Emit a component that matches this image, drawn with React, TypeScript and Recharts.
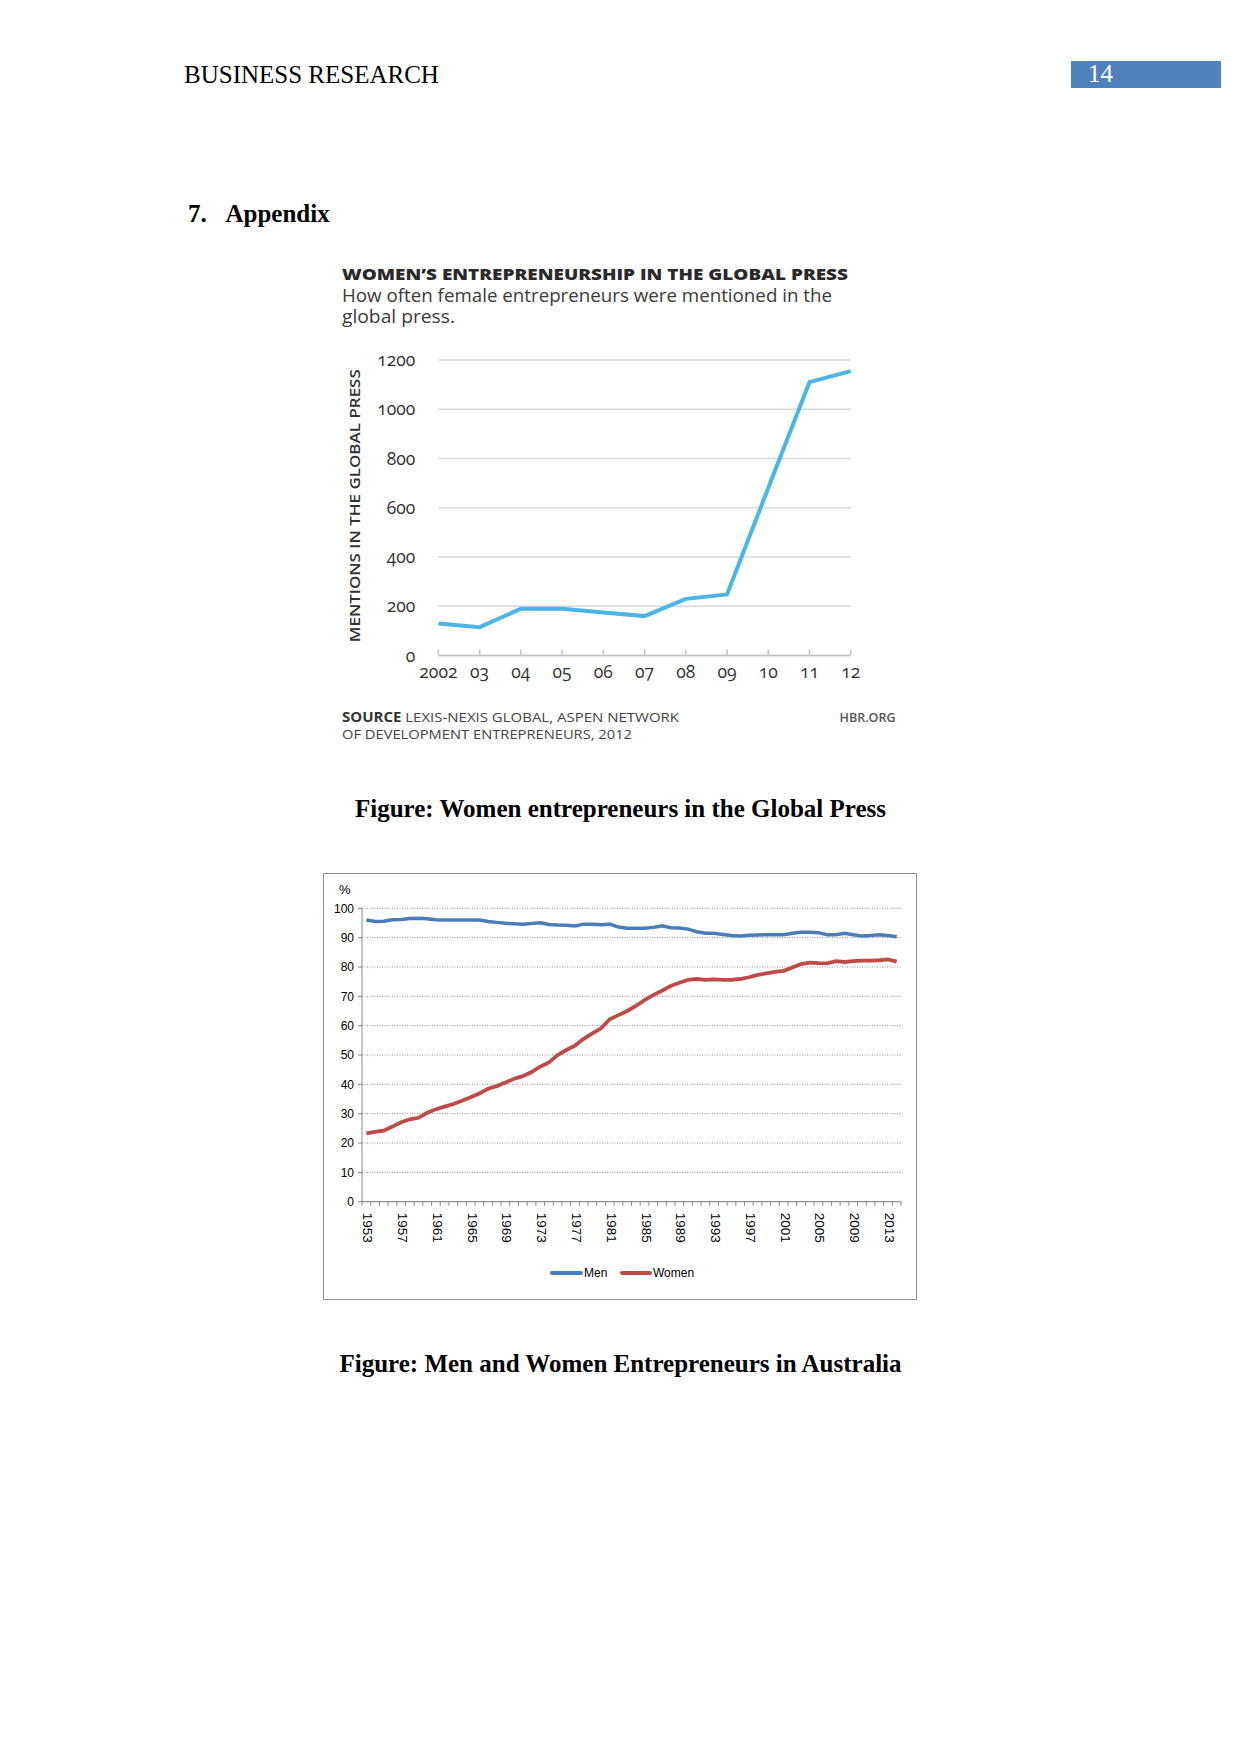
import { CartesianGrid, Line, LineChart, XAxis, YAxis } from "recharts";

// women's entrepreneurship in the global press (HBR)
const pressYears = ["2002", "03", "04", "05", "06", "07", "08", "09", "10", "11", "12"];
const pressMentions = [130, 115, 190, 190, 175, 160, 230, 248, 680, 1110, 1155];
const pressTicks = [0, 200, 400, 600, 800, 1000, 1200];

// men and women entrepreneurs in Australia, %
const ausYears = [
  1953, 1954, 1955, 1956, 1957, 1958, 1959, 1960, 1961, 1962, 1963, 1964, 1965, 1966, 1967, 1968,
  1969, 1970, 1971, 1972, 1973, 1974, 1975, 1976, 1977, 1978, 1979, 1980, 1981, 1982, 1983, 1984,
  1985, 1986, 1987, 1988, 1989, 1990, 1991, 1992, 1993, 1994, 1995, 1996, 1997, 1998, 1999, 2000,
  2001, 2002, 2003, 2004, 2005, 2006, 2007, 2008, 2009, 2010, 2011, 2012, 2013, 2014,
];
const menShare = [
  96.0, 95.5, 95.6, 96.1, 96.2, 96.5, 96.6, 96.4, 96.1, 96.0, 96.0, 96.0, 96.0, 96.0, 95.5, 95.2,
  94.9, 94.7, 94.6, 94.8, 95.1, 94.5, 94.3, 94.2, 94.0, 94.6, 94.6, 94.4, 94.6, 93.6, 93.2, 93.2,
  93.2, 93.5, 94.0, 93.4, 93.3, 92.9, 92.0, 91.5, 91.5, 91.1, 90.7, 90.6, 90.8, 90.9, 91.0, 91.0,
  91.0, 91.5, 91.8, 91.8, 91.7, 91.0, 91.0, 91.5, 91.0, 90.6, 90.7, 91.0, 90.7, 90.3,
];
const womenShare = [
  23.3, 23.8, 24.2, 25.6, 27.1, 28.1, 28.6, 30.3, 31.5, 32.4, 33.3, 34.4, 35.6, 36.9, 38.5, 39.4,
  40.6, 41.9, 42.8, 44.2, 46.0, 47.5, 50.0, 51.7, 53.2, 55.5, 57.4, 59.1, 62.2, 63.6, 65.0, 66.7,
  68.7, 70.4, 71.9, 73.5, 74.6, 75.6, 75.9, 75.6, 75.8, 75.6, 75.6, 75.9, 76.5, 77.3, 77.8, 78.3,
  78.7, 79.8, 81.0, 81.5, 81.3, 81.2, 82.0, 81.7, 82.0, 82.2, 82.2, 82.3, 82.6, 81.8,
];
const shareTicks = [0, 10, 20, 30, 40, 50, 60, 70, 80, 90, 100];

const pressData = pressYears.map((label, i) => ({ label, mentions: pressMentions[i] }));
const ausData = ausYears.map((year, i) => ({ year, men: menShare[i], women: womenShare[i] }));

const HBR_FONT = "'Open Sans', Lato, sans-serif";
const XL_FONT = "'Liberation Sans', Arial, sans-serif";
const SERIF = "'Liberation Serif', 'Times New Roman', serif";
const MEN_COLOR = "#4A7EBB";
const WOMEN_COLOR = "#BE4B48";

const AUS_W = 594;
const AUS_YAXIS_W = 39;
const AUS_RIGHT = 16;
const AUS_HALF_BAND = (AUS_W - AUS_YAXIS_W - AUS_RIGHT) / ausYears.length / 2;

function PressTick({ x, y, payload }: any) {
  return (
    <g>
      <line x1={x} x2={x} y1={y} y2={y - 6} stroke="#c4c4c4" strokeWidth={1.5} />
      <text
        x={x}
        y={y + 22}
        textAnchor="middle"
        fill="#333"
        fontSize={17.5}
        fontFamily={HBR_FONT}
        style={{ fontVariantNumeric: "oldstyle-nums" }}
      >
        {payload.value}
      </text>
    </g>
  );
}

function YearTick({ x, y, index, payload }: any) {
  const last = index === ausYears.length - 1;
  return (
    <g>
      <line x1={x - AUS_HALF_BAND} x2={x - AUS_HALF_BAND} y1={y} y2={y + 4} stroke="#868686" />
      {last && <line x1={x + AUS_HALF_BAND} x2={x + AUS_HALF_BAND} y1={y} y2={y + 4} stroke="#868686" />}
      {index % 4 === 0 && (
        <text
          x={x + 1.5}
          y={y + 11}
          transform={`rotate(90 ${x + 1.5} ${y + 11})`}
          textAnchor="start"
          dominantBaseline="central"
          fontSize={13.5}
          fontFamily={XL_FONT}
          fill="#000"
        >
          {payload.value}
        </text>
      )}
    </g>
  );
}

function PressChart() {
  return (
    <>
      <svg
        width={1241}
        height={760}
        style={{ position: "absolute", left: 0, top: 0, fontFamily: HBR_FONT }}
      >
        <text x={342} y={280} fontSize={16.5} fontWeight={800} fill="#2a2a2a" textLength={506} lengthAdjust="spacingAndGlyphs">
          WOMEN’S ENTREPRENEURSHIP IN THE GLOBAL PRESS
        </text>
        <text x={342} y={301.7} fontSize={17.5} fill="#3a3a3a" textLength={490} lengthAdjust="spacingAndGlyphs">
          How often female entrepreneurs were mentioned in the
        </text>
        <text x={342} y={323.3} fontSize={17.5} fill="#3a3a3a" textLength={113} lengthAdjust="spacingAndGlyphs">
          global press.
        </text>
        <text
          x={353.6}
          y={505.7}
          transform="rotate(-90 353.6 505.7)"
          textAnchor="middle"
          dominantBaseline="central"
          fontSize={15}
          fontWeight={600}
          fill="#333"
          textLength={273}
          lengthAdjust="spacingAndGlyphs"
        >
          MENTIONS IN THE GLOBAL PRESS
        </text>
        <text x={342} y={721.7} fontSize={13.5} fill="#444" textLength={337} lengthAdjust="spacingAndGlyphs">
          <tspan fontWeight={700} fill="#333">SOURCE</tspan> LEXIS-NEXIS GLOBAL, ASPEN NETWORK
        </text>
        <text x={342} y={739} fontSize={13.5} fill="#444" textLength={290} lengthAdjust="spacingAndGlyphs">
          OF DEVELOPMENT ENTREPRENEURS, 2012
        </text>
        <text x={895.5} y={721.7} textAnchor="end" fontSize={12.5} fontWeight={600} fill="#555" textLength={56} lengthAdjust="spacingAndGlyphs">
          HBR.ORG
        </text>
      </svg>
      <div style={{ position: "absolute", left: 330, top: 340 }}>
        <LineChart width={540} height={360} data={pressData} margin={{ top: 20, right: 19.3, bottom: 14.5, left: 48.4 }}>
          <CartesianGrid stroke="#d9d9d9" strokeWidth={1.5} vertical={false} />
          <XAxis
            dataKey="label"
            height={30}
            interval={0}
            axisLine={{ stroke: "#c4c4c4", strokeWidth: 1.5 }}
            tickLine={false}
            tickSize={0}
            tickMargin={0}
            tick={<PressTick />}
          />
          <YAxis
            domain={[0, 1200]}
            ticks={pressTicks}
            interval={0}
            width={60}
            axisLine={false}
            tickLine={false}
            tickSize={0}
            tickMargin={23}
            tick={{ fill: "#333", fontSize: 17.5, fontFamily: HBR_FONT, style: { fontVariantNumeric: "oldstyle-nums" } }}
          />
          <Line
            type="linear"
            dataKey="mentions"
            stroke="#4BB5E8"
            strokeWidth={4}
            dot={false}
            isAnimationActive={false}
          />
        </LineChart>
      </div>
    </>
  );
}

function AustraliaChart() {
  return (
    <>
      <div
        style={{
          position: "absolute",
          left: 323,
          top: 872.5,
          width: 594,
          height: 427,
          border: "1.5px solid #8c8c8c",
          boxSizing: "border-box",
        }}
      />
      <div style={{ position: "absolute", left: 323, top: 873 }}>
        <LineChart width={AUS_W} height={427} data={ausData} margin={{ top: 35.3, right: AUS_RIGHT, bottom: 0, left: 0 }}>
          <CartesianGrid stroke="#8c8c8c" strokeDasharray="1 1.5" vertical={false} />
          <XAxis
            dataKey="year"
            height={98.3}
            interval={0}
            padding={{ left: AUS_HALF_BAND, right: AUS_HALF_BAND }}
            axisLine={{ stroke: "#868686" }}
            tickLine={false}
            tickSize={0}
            tickMargin={0}
            tick={<YearTick />}
          />
          <YAxis
            domain={[0, 100]}
            ticks={shareTicks}
            interval={0}
            width={AUS_YAXIS_W}
            axisLine={{ stroke: "#868686" }}
            tickLine={{ stroke: "#868686" }}
            tickSize={4}
            tickMargin={4}
            tick={{ fill: "#000", fontSize: 12, fontFamily: XL_FONT }}
          />
          <Line type="linear" dataKey="men" stroke={MEN_COLOR} strokeWidth={3.5} dot={false} isAnimationActive={false} />
          <Line type="linear" dataKey="women" stroke={WOMEN_COLOR} strokeWidth={3.8} dot={false} isAnimationActive={false} />
        </LineChart>
      </div>
      <div style={{ position: "absolute", left: 339, top: 882, fontFamily: XL_FONT, fontSize: 13, lineHeight: "16px" }}>%</div>
      <div style={{ position: "absolute", left: 550, top: 1270.7, width: 33, height: 4, borderRadius: 2, background: MEN_COLOR }} />
      <div style={{ position: "absolute", left: 584, top: 1264.7, fontFamily: XL_FONT, fontSize: 12, lineHeight: "16px" }}>Men</div>
      <div style={{ position: "absolute", left: 620, top: 1270.7, width: 32, height: 4, borderRadius: 2, background: WOMEN_COLOR }} />
      <div style={{ position: "absolute", left: 653, top: 1264.7, fontFamily: XL_FONT, fontSize: 12, lineHeight: "16px" }}>Women</div>
    </>
  );
}

export default function App() {
  return (
    <div style={{ position: "absolute", left: 0, top: 0, width: 1241, height: 1754, background: "#fff", fontFamily: SERIF }}>
      <div style={{ position: "absolute", left: 184, top: 62, fontSize: 25, lineHeight: "25px", color: "#000" }}>
        BUSINESS RESEARCH
      </div>
      <div style={{ position: "absolute", left: 1071, top: 61, width: 150, height: 27, background: "#4F81BD" }} />
      <div style={{ position: "absolute", left: 1088, top: 61.4, fontSize: 25, lineHeight: "25px", color: "#fff" }}>14</div>
      <div style={{ position: "absolute", left: 188, top: 201, fontSize: 25, lineHeight: "25px", fontWeight: 700 }}>7.</div>
      <div style={{ position: "absolute", left: 225.5, top: 201, fontSize: 25, lineHeight: "25px", fontWeight: 700 }}>Appendix</div>

      <PressChart />

      <div style={{ position: "absolute", left: 0, width: 1241, top: 795.8, textAlign: "center", fontSize: 25, lineHeight: "25px", fontWeight: 700 }}>
        Figure: Women entrepreneurs in the Global Press
      </div>

      <AustraliaChart />

      <div style={{ position: "absolute", left: 0, width: 1241, top: 1351, textAlign: "center", fontSize: 25, lineHeight: "25px", fontWeight: 700 }}>
        Figure: Men and Women Entrepreneurs in Australia
      </div>
    </div>
  );
}
